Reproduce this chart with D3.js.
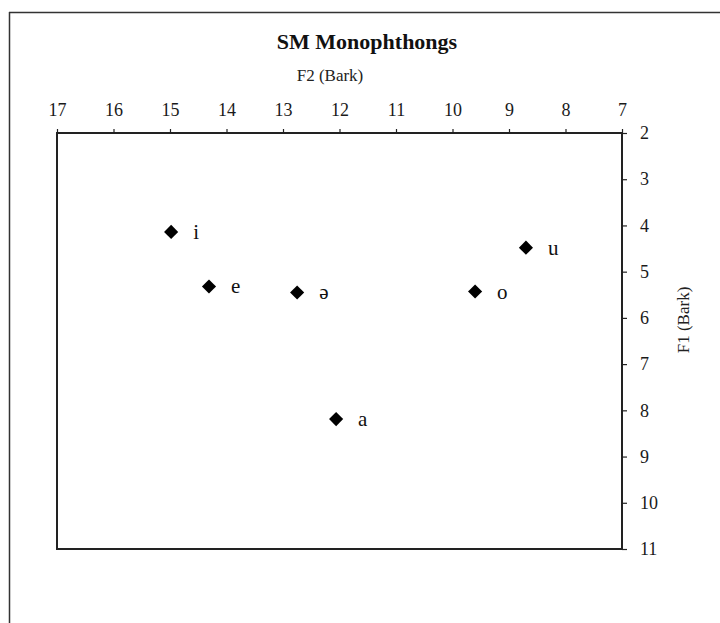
<!DOCTYPE html>
<html><head><meta charset="utf-8">
<script src="https://cdn.jsdelivr.net/npm/d3@7"></script>
<style>
html,body{margin:0;padding:0;background:#fff;}
svg{display:block;font-family:"Liberation Serif","Times New Roman",serif;}
</style></head>
<body>
<svg id="chart" width="720" height="623"></svg>
<script>
const vowels = ["i","e","ə","a","o","u"];
const f2Values = [14.98, 14.31, 12.75, 12.06, 9.60, 8.70];
const f1Values = [4.14, 5.32, 5.45, 8.19, 5.43, 4.48];
const xTicks = [17,16,15,14,13,12,11,10,9,8,7];
const yTicks = [2,3,4,5,6,7,8,9,10,11];

const svg = d3.select("#chart");
const L = 57, R = 622, T = 133, B = 549;

// outer border (top and left visible)
svg.append("line").attr("x1",9).attr("x2",720).attr("y1",12.5).attr("y2",12.5).attr("stroke","#333").attr("stroke-width",1.5);
svg.append("line").attr("x1",9.5).attr("x2",9.5).attr("y1",12).attr("y2",623).attr("stroke","#333").attr("stroke-width",1.5);

const x = d3.scaleLinear().domain([17,7]).range([L,R]);
const y = d3.scaleLinear().domain([2,11]).range([T,B]);

// plot frame
svg.append("rect").attr("x",L).attr("y",T).attr("width",R-L).attr("height",B-T)
  .attr("fill","none").attr("stroke","#222").attr("stroke-width",2);

// top axis
const xAxis = svg.append("g").attr("transform",`translate(0,${T})`)
  .call(d3.axisTop(x).tickValues(xTicks).tickSize(4).tickPadding(13).tickFormat(d3.format("d")));
xAxis.attr("font-size",18).attr("font-family","Liberation Serif, serif");
xAxis.select(".domain").remove();
xAxis.selectAll("line").attr("stroke","#222").attr("stroke-width",1.2);
xAxis.selectAll("text").style("font-size","18px").attr("fill","#1a1a1a");

// right axis
const yAxis = svg.append("g").attr("transform",`translate(${R},0)`)
  .call(d3.axisRight(y).tickValues(yTicks).tickSize(5).tickPadding(13).tickFormat(d3.format("d")));
yAxis.attr("font-size",18).attr("font-family","Liberation Serif, serif");
yAxis.select(".domain").remove();
yAxis.selectAll("line").attr("stroke","#222").attr("stroke-width",1.2);
yAxis.selectAll("text").style("font-size","18px").attr("fill","#1a1a1a");

// titles
svg.append("text").attr("x",367).attr("y",49).attr("text-anchor","middle")
  .style("font-size","22px").attr("font-weight","bold").attr("fill","#111").text("SM Monophthongs");
svg.append("text").attr("x",330).attr("y",81).attr("text-anchor","middle")
  .style("font-size","17px").attr("fill","#222").text("F2 (Bark)");
svg.append("text").attr("transform","translate(689,320) rotate(-90)").attr("text-anchor","middle")
  .style("font-size","17px").attr("fill","#222").text("F1 (Bark)");

// points
const data = vowels.map((v,i)=>({v, f2:f2Values[i], f1:f1Values[i]}));
svg.selectAll("path.pt").data(data).enter().append("path").attr("class","pt")
  .attr("d", d3.symbol(d3.symbolSquare, 100)())
  .attr("transform", d=>`translate(${x(d.f2)},${y(d.f1)}) rotate(45)`)
  .attr("fill","#000");
svg.selectAll("text.lbl").data(data).enter().append("text").attr("class","lbl")
  .attr("x", d=>x(d.f2)+22).attr("y", d=>y(d.f1)+7)
  .style("font-size","21px").attr("fill","#111").text(d=>d.v);
</script>
</body></html>
